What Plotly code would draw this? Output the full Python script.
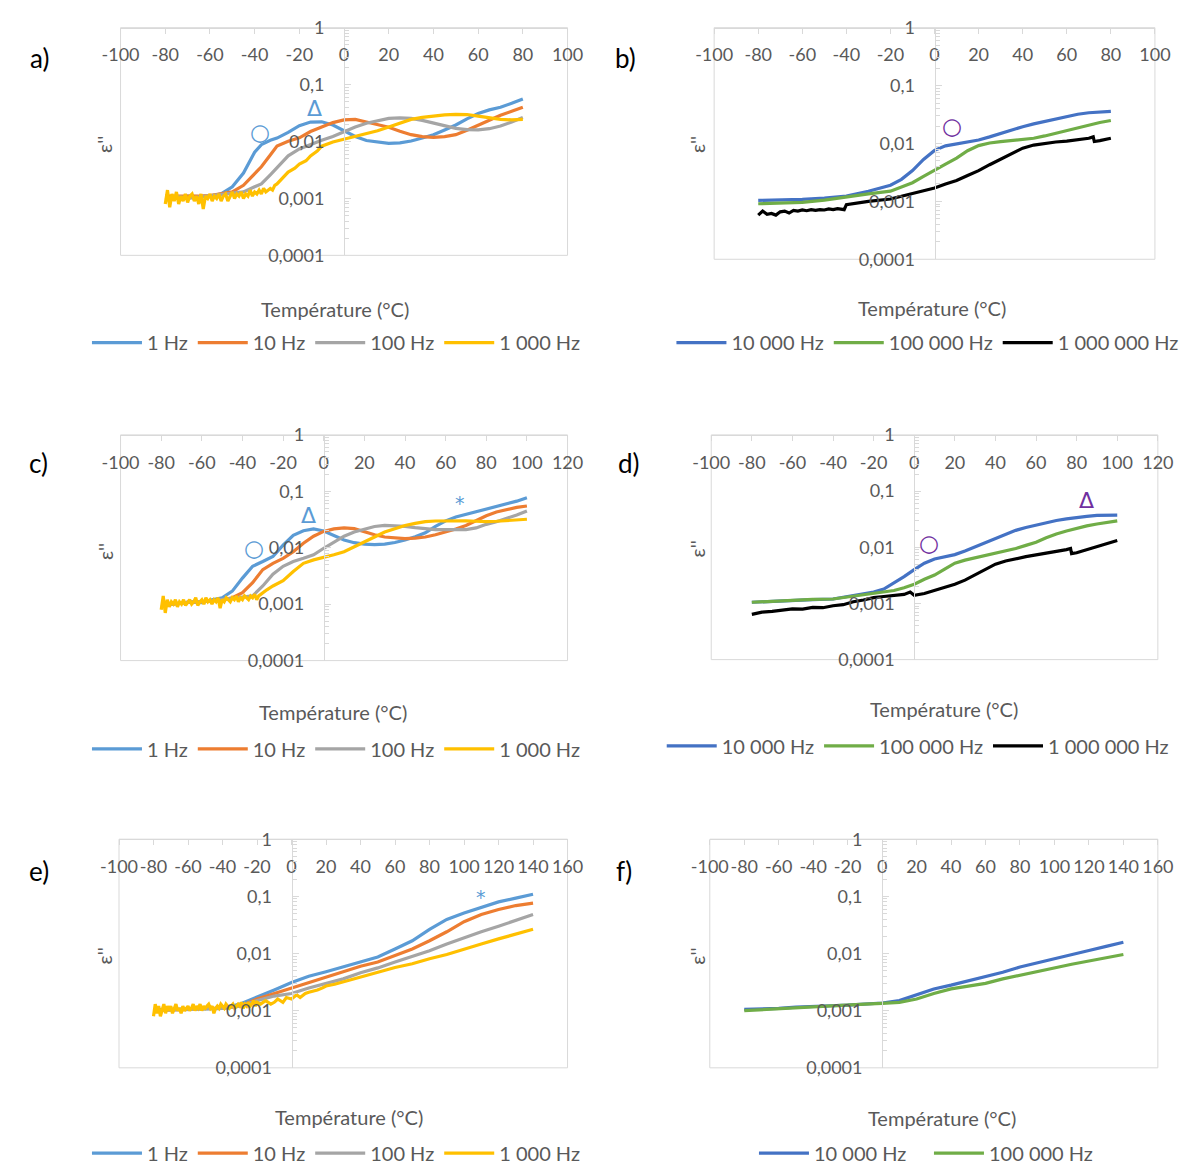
import math
import plotly.graph_objects as go

# ------------------------------------------------------------------ data
X_TICKS_AB = [-100, -80, -60, -40, -20, 0, 20, 40, 60, 80, 100]
X_TICKS_CD = [-100, -80, -60, -40, -20, 0, 20, 40, 60, 80, 100, 120]
X_TICKS_EF = [-100, -80, -60, -40, -20, 0, 20, 40, 60, 80, 100, 120, 140, 160]

# panel a
A_T = [-80, -75, -70, -65, -60, -55, -50, -45, -40, -37, -33, -30, -25, -20, -15, -10, -5, 0,
       5, 10, 15, 20, 25, 30, 35, 40, 45, 50, 55, 60, 65, 70, 75, 80]
A_1HZ = [0.0011, 0.00105, 0.0011, 0.00108, 0.0011, 0.0012, 0.0016, 0.0028, 0.0065, 0.0088,
         0.0105, 0.0115, 0.0145, 0.019, 0.022, 0.0222, 0.0195, 0.0157, 0.0123, 0.0104,
         0.0097, 0.0093, 0.0095, 0.0102, 0.0115, 0.0132, 0.016, 0.0195, 0.025, 0.031,
         0.036, 0.040, 0.047, 0.056]
A_10HZ = [0.0011, 0.0011, 0.00108, 0.0011, 0.00112, 0.0012, 0.0013, 0.0017, 0.0027, 0.0036,
          0.0058, 0.0083, 0.0101, 0.0116, 0.015, 0.018, 0.0215, 0.024, 0.0245, 0.022,
          0.020, 0.0178, 0.0152, 0.0132, 0.0122, 0.0118, 0.0122, 0.0132, 0.0158, 0.0195,
          0.024, 0.029, 0.034, 0.040]
A_100HZ = [0.00095, 0.0011, 0.001, 0.00105, 0.0011, 0.00115, 0.0012, 0.0013, 0.0016, 0.0018,
           0.0026, 0.0035, 0.0056, 0.0074, 0.0089, 0.0105, 0.0123, 0.015, 0.018, 0.021,
           0.0235, 0.0255, 0.026, 0.0255, 0.0235, 0.021, 0.019, 0.017, 0.0162, 0.016,
           0.0168, 0.0187, 0.022, 0.0264]
A_T_1000_NOISY = list(range(-80, -29))
A_1000HZ_NOISY = [0.0008, 0.0014, 0.0007, 0.0012, 0.0009, 0.0013, 0.0008, 0.0011, 0.0009, 0.0012,
                  0.00085, 0.0011, 0.0012, 0.0009, 0.0011, 0.0008, 0.0012, 0.00065, 0.0011, 0.001,
                  0.0012, 0.0009, 0.0011, 0.001, 0.0012, 0.0009, 0.0011, 0.0012, 0.0009, 0.0011,
                  0.0013, 0.001, 0.0012, 0.0011, 0.0013, 0.001, 0.0012, 0.0011, 0.0014, 0.0011,
                  0.0013, 0.0012, 0.0014, 0.0012, 0.0015, 0.0013, 0.0014, 0.0015, 0.0014, 0.0017,
                  0.0018]
A_T_1000 = [-28, -25, -22, -20, -17, -15, -12, -10, -5, 0, 5, 10, 15, 20, 25, 30, 35, 40, 45,
            50, 55, 60, 65, 70, 75, 80]
A_1000HZ = [0.0022, 0.0029, 0.0034, 0.004, 0.0046, 0.0056, 0.0068, 0.0083, 0.0098, 0.011,
            0.012, 0.0137, 0.0155, 0.018, 0.021, 0.0245, 0.0265, 0.028, 0.0295, 0.030,
            0.0298, 0.028, 0.026, 0.0245, 0.024, 0.0245]

# panel b
B_T = [-80, -70, -60, -50, -40, -30, -20, -15, -10, -5, 0, 5, 10, 15, 20, 25, 30, 35, 40, 45,
       50, 55, 60, 65, 70, 75, 80]
B_10KHZ = [0.00104, 0.00105, 0.00108, 0.00114, 0.00123, 0.0015, 0.0019, 0.0024, 0.0034, 0.0053,
           0.0076, 0.0091, 0.0098, 0.0105, 0.0115, 0.013, 0.015, 0.017, 0.0195, 0.0218,
           0.024, 0.027, 0.0296, 0.032, 0.034, 0.0355, 0.036]
B_100KHZ = [0.00091, 0.00093, 0.00096, 0.00105, 0.0012, 0.00135, 0.0015, 0.0018, 0.0021, 0.0027,
            0.0034, 0.0044, 0.0056, 0.0075, 0.0092, 0.0102, 0.0108, 0.0112, 0.0115, 0.0123,
            0.0135, 0.015, 0.017, 0.019, 0.021, 0.023, 0.025]
B_T_1MHZ = [-80, -78, -76, -74, -72, -70, -68, -66, -64, -62, -60, -58, -56, -54, -52, -50, -48,
            -46, -44, -42, -41, -40, -35, -30, -20, -10, 0, 5, 10, 15, 20, 25, 30, 35, 40, 45,
            50, 55, 60, 65, 70, 72, 72.5, 75, 80]
B_1MHZ = [0.00058, 0.00068, 0.0006, 0.00062, 0.00058, 0.00066, 0.00068, 0.00063, 0.0007, 0.00068,
          0.00071, 0.00069, 0.00072, 0.0007, 0.00072, 0.00071, 0.00074, 0.00072, 0.00075, 0.00073,
          0.00072, 0.00088, 0.00095, 0.001, 0.0011, 0.00135, 0.0017,
          0.002, 0.0023, 0.0028, 0.0034, 0.0043, 0.0054, 0.0068, 0.0083, 0.0094, 0.0101,
          0.0106, 0.011, 0.0116, 0.0123,
          0.013, 0.0108, 0.0112, 0.0123]

# panel c
C_T = [-80, -75, -70, -65, -60, -55, -50, -45, -40, -35, -30, -25, -20, -15, -10, -5, 0, 5, 10,
       15, 20, 25, 30, 35, 40, 45, 50, 55, 60, 65, 70, 75, 80, 85, 90, 95, 100]
C_1HZ = [0.0009, 0.001, 0.00105, 0.0011, 0.00107, 0.0012, 0.0013, 0.0017, 0.0029, 0.0047,
         0.0057, 0.007, 0.0111, 0.0166, 0.020, 0.0216, 0.0198, 0.0166, 0.0137, 0.0123,
         0.0116, 0.0114, 0.0116, 0.0124, 0.0137, 0.0157, 0.0184, 0.024, 0.030, 0.035,
         0.039, 0.044, 0.048, 0.053, 0.059, 0.067, 0.077]
C_10HZ = [0.00095, 0.001, 0.00105, 0.0011, 0.0011, 0.00115, 0.0012, 0.0013, 0.0016, 0.0024,
          0.0041, 0.0053, 0.0065, 0.0085, 0.012, 0.016, 0.0195, 0.0216, 0.0225, 0.0218,
          0.019, 0.017, 0.0155, 0.0148, 0.0145, 0.0148, 0.0155, 0.017, 0.019, 0.0215,
          0.0248, 0.030, 0.037, 0.043, 0.048, 0.052, 0.055]
C_100HZ = [0.0009, 0.001, 0.00105, 0.0011, 0.0011, 0.00115, 0.0012, 0.00125, 0.0013, 0.0014,
           0.0021, 0.0034, 0.0047, 0.0057, 0.0065, 0.0075, 0.0098, 0.0127, 0.016, 0.019,
           0.0216, 0.0238, 0.025, 0.0248, 0.024, 0.0228, 0.0216, 0.021, 0.021, 0.0208,
           0.021, 0.0225, 0.026, 0.029, 0.033, 0.038, 0.045]
C_T_1000_NOISY = list(range(-80, -29))
C_1000HZ_NOISY = [0.0008, 0.0014, 0.0007, 0.0012, 0.0009, 0.0011, 0.001, 0.0012, 0.0009, 0.0011,
                  0.001, 0.0012, 0.00095, 0.0011, 0.0012, 0.001, 0.0011, 0.0013, 0.00095, 0.0011,
                  0.0012, 0.001, 0.0013, 0.0011, 0.0012, 0.001, 0.0012, 0.0011, 0.0013, 0.00085,
                  0.0012, 0.0011, 0.0013, 0.0012, 0.0011, 0.0013, 0.0012, 0.0014, 0.0011, 0.0013,
                  0.0012, 0.0014, 0.0013, 0.0012, 0.0014, 0.0013, 0.0015, 0.0012, 0.0014, 0.0015,
                  0.0016]
C_T_1000 = [-28, -25, -20, -15, -10, -5, 0, 5, 10, 15, 20, 25, 30, 35, 40, 45, 50, 55, 60, 65,
            70, 75, 80, 85, 90, 95, 100]
C_1000HZ = [0.0018, 0.0021, 0.0026, 0.0038, 0.0053, 0.0061, 0.0067, 0.0075, 0.0085, 0.0105,
            0.0127, 0.0155, 0.019, 0.022, 0.0248, 0.027, 0.029, 0.0298, 0.030, 0.030,
            0.030, 0.0295, 0.029, 0.0295, 0.030, 0.031, 0.032]

# panel d
D_T = [-80, -70, -60, -50, -40, -30, -20, -15, -10, -5, 0, 5, 10, 15, 20, 25, 30, 35, 40, 45,
       50, 55, 60, 65, 70, 75, 80, 85, 90, 95, 100]
D_10KHZ = [0.00105, 0.0011, 0.00114, 0.00117, 0.0012, 0.0014, 0.0016, 0.0018, 0.0023, 0.003,
           0.004, 0.0052, 0.0062, 0.0068, 0.0074, 0.0086, 0.0102, 0.0122, 0.0145, 0.017,
           0.020, 0.0225, 0.025, 0.0275, 0.030, 0.032, 0.034, 0.0355, 0.037, 0.0375, 0.0375]
D_100KHZ = [0.00105, 0.0011, 0.00115, 0.00118, 0.0012, 0.00135, 0.0015, 0.0016, 0.0017, 0.0019,
            0.0022, 0.0027, 0.0032, 0.0041, 0.0052, 0.0059, 0.0065, 0.0071, 0.0078, 0.0086,
            0.0095, 0.0108, 0.0123, 0.0148, 0.0173, 0.0195, 0.022, 0.024, 0.026, 0.028, 0.0296]
D_T_1MHZ = [-80, -75, -70, -65, -60, -55, -50, -45, -40, -35, -30, -25, -20, -15, -10, -5, -2, 0,
            5, 10, 15, 20, 25, 30, 35, 40, 45, 50, 55, 60, 65, 70, 75, 77, 77.5, 80, 85, 90, 95,
            100]
D_1MHZ = [0.00064, 0.0007, 0.00072, 0.00076, 0.0008, 0.00079, 0.00085, 0.00084, 0.00091, 0.00095,
          0.00107, 0.00115, 0.00127, 0.00133, 0.0014, 0.00145, 0.0016, 0.0014, 0.0015, 0.0017,
          0.0019, 0.0022, 0.0026, 0.0032, 0.004, 0.005, 0.0057, 0.0063, 0.0068, 0.0073,
          0.0078, 0.0083, 0.0091, 0.0095, 0.0077, 0.008, 0.009, 0.0101, 0.0115, 0.0132]

# panel e
E_T = [-80, -70, -60, -50, -40, -30, -20, -10, 0, 10, 20, 30, 40, 50, 60, 70, 80, 90, 100, 110,
       120, 130, 140]
E_1HZ = [0.00104, 0.00105, 0.00107, 0.0011, 0.0011, 0.0013, 0.0017, 0.0023, 0.0031, 0.004,
         0.0048, 0.0058, 0.0071, 0.0087, 0.012, 0.0167, 0.0265, 0.0395, 0.051, 0.064,
         0.080, 0.093, 0.109]
E_10HZ = [0.001, 0.00104, 0.00106, 0.0011, 0.0011, 0.0012, 0.0016, 0.002, 0.0025, 0.0031,
          0.0039, 0.0048, 0.006, 0.0071, 0.0093, 0.012, 0.0167, 0.024, 0.036, 0.048,
          0.059, 0.069, 0.076]
E_100HZ = [0.001, 0.00103, 0.00105, 0.00108, 0.0011, 0.0012, 0.0015, 0.0018, 0.002, 0.0025,
           0.003, 0.0036, 0.0046, 0.0056, 0.0071, 0.0089, 0.0112, 0.0147, 0.019, 0.024,
           0.030, 0.038, 0.048]
E_T_1000_NOISY = list(range(-80, -19))
E_1000HZ_NOISY = [0.0008, 0.0013, 0.0009, 0.0012, 0.0008, 0.0011, 0.0013, 0.0009, 0.0012, 0.001,
                  0.0012, 0.0009, 0.0011, 0.0013, 0.001, 0.0011, 0.0009, 0.0012, 0.001, 0.0011,
                  0.0012, 0.001, 0.0011, 0.0013, 0.001, 0.0012, 0.0011, 0.0013, 0.001, 0.0012,
                  0.0011, 0.0012, 0.0013, 0.0011, 0.0012, 0.0009, 0.0011, 0.0012, 0.0011, 0.0013,
                  0.0012, 0.0011, 0.0013, 0.0012, 0.0011, 0.0012, 0.0013, 0.0011, 0.0012, 0.0013,
                  0.0012, 0.0014, 0.0011, 0.0013, 0.0012, 0.0014, 0.0012, 0.0013, 0.0015, 0.0012,
                  0.0014]
E_T_1000 = [-18, -15, -12, -10, -8, -5, -3, 0, 3, 5, 8, 10, 13, 15, 18, 20, 25, 30, 35, 40, 50,
            60, 70, 80, 90, 100, 110, 120, 130, 140]
E_1000HZ = [0.0013, 0.0015, 0.0013, 0.0014, 0.0016, 0.0014, 0.0017, 0.0016, 0.0019, 0.0017,
            0.002, 0.0021, 0.0022, 0.0023, 0.0025, 0.0027, 0.0029, 0.0032, 0.0036, 0.0039,
            0.0048, 0.0057, 0.0066, 0.0081, 0.0096, 0.012, 0.0147, 0.018, 0.0217, 0.0265]

# panel f
F_T = [-80, -70, -60, -50, -40, -30, -20, -10, 0, 10, 20, 30, 40, 50, 60, 70, 80, 90, 100, 110,
       120, 130, 140]
F_10KHZ = [0.00105, 0.00107, 0.0011, 0.00115, 0.0012, 0.00122, 0.00125, 0.0013, 0.00136, 0.0015,
           0.0019, 0.0024, 0.0028, 0.0033, 0.0039, 0.0047, 0.0058, 0.0068, 0.0081, 0.0095,
           0.0113, 0.0133, 0.0157]
F_100KHZ = [0.001, 0.00104, 0.00107, 0.00111, 0.00116, 0.0012, 0.00128, 0.0013, 0.00134, 0.0014,
            0.0016, 0.002, 0.0024, 0.0027, 0.003, 0.0036, 0.0042, 0.0049, 0.0057, 0.0065,
            0.0074, 0.0085, 0.0096]

# annotation markers: (panel, symbol, T, eps'', colour-key)
MARKERS = [
    (1, "○", -37.4, 0.0148, "blue"), (1, "Δ", -13.2, 0.038, "blue"),
    (2, "○", 7.8, 0.020, "purple"),
    (3, "○", -34.2, 0.0098, "blue"), (3, "Δ", -7.3, 0.037, "blue"), (3, "*", 66.9, 0.061, "blue"),
    (4, "○", 7.2, 0.012, "purple"), (4, "Δ", 84.9, 0.069, "purple"),
    (5, "*", 110, 0.098, "blue"),
]

# ------------------------------------------------------------------ style
W, H = 1202, 1173
FONT = "Lato"
TXT = "#595959"
AXC = "#d9d9d9"
C1, C10, C100, C1000 = "#5B9BD5", "#ED7D31", "#A5A5A5", "#FFC000"
C10K, C100K, C1M = "#4472C4", "#70AD47", "#000000"
MARK_COL = {"blue": "#5B9BD5", "purple": "#7030A0"}
MARK_SIZE = {"○": 23, "Δ": 22, "*": 19}

LOW = [("1 Hz", C1), ("10 Hz", C10), ("100 Hz", C100), ("1 000 Hz", C1000)]
HIGH = [("10 000 Hz", C10K), ("100 000 Hz", C100K), ("1 000 000 Hz", C1M)]

SERIES = {
    1: [(A_T, A_1HZ), (A_T, A_10HZ), (A_T, A_100HZ),
        (A_T_1000_NOISY + A_T_1000, A_1000HZ_NOISY + A_1000HZ)],
    2: [(B_T, B_10KHZ), (B_T, B_100KHZ), (B_T_1MHZ, B_1MHZ)],
    3: [(C_T, C_1HZ), (C_T, C_10HZ), (C_T, C_100HZ),
        (C_T_1000_NOISY + C_T_1000, C_1000HZ_NOISY + C_1000HZ)],
    4: [(D_T, D_10KHZ), (D_T, D_100KHZ), (D_T_1MHZ, D_1MHZ)],
    5: [(E_T, E_1HZ), (E_T, E_10HZ), (E_T, E_100HZ),
        (E_T_1000_NOISY + E_T_1000, E_1000HZ_NOISY + E_1000HZ)],
    6: [(F_T, F_10KHZ), (F_T, F_100KHZ)],
}

PANELS = {
    1: ("a)", (104.6, 16, 565, 248), X_TICKS_AB, (21, 47), (325, 303), (88, 135), (70, 337), LOW),
    2: ("b)", (716, 16, 1170, 252), X_TICKS_AB, (625, 47), (940, 302), (699, 135), (672, 337), HIGH),
    3: ("c)", (104.6, 431, 565, 661), X_TICKS_CD, (20, 460), (323, 713), (88, 550), (70, 751), LOW),
    4: ("d)", (713, 431, 1173, 660), X_TICKS_CD, (628, 460), (953, 710), (698, 547), (662, 748), HIGH),
    5: ("e)", (103, 843, 565, 1076), X_TICKS_EF, (21, 875), (340, 1126), (88, 962), (70, 1163), LOW),
    6: ("f)", (711.5, 843, 1173, 1076), X_TICKS_EF, (623, 875), (951, 1127), (698, 962), (757, 1163), HIGH[:2]),
}
# extra legend entry width (px) for the wider-spaced legend of panel f
LEGEND_ENTRY_WIDTH = {6: [110, 0]}

fig = go.Figure()
annotations = []
shapes = []

for i, (letter, box, xt, lpos, tpos, epos, legpos, names) in PANELS.items():
    sx = "" if i == 1 else str(i)
    x0, y0, x1, y1 = box
    xr = (xt[0], xt[-1])
    leg = "legend" if i == 1 else f"legend{i}"
    widths = LEGEND_ENTRY_WIDTH.get(i, [0] * len(names))
    for (tx, ty), (nm, col), lw in zip(SERIES[i], names, widths):
        kw = dict(legendwidth=lw) if lw else {}
        fig.add_trace(go.Scatter(x=tx, y=ty, mode="lines", name=nm,
                                 line=dict(color=col, width=3.2),
                                 xaxis="x" + sx, yaxis="y" + sx, legend=leg,
                                 showlegend=True, hoverinfo="skip", **kw))
    zero_px = x0 + (0 - xr[0]) / (xr[1] - xr[0]) * (x1 - x0)
    fig.layout["xaxis" + sx] = dict(
        domain=[x0 / W, x1 / W], range=list(xr), anchor="free", position=1 - y0 / H,
        side="bottom", tickmode="array", tickvals=xt, ticktext=[str(v) for v in xt],
        ticks="outside", ticklen=5, tickcolor=AXC, showline=True, linecolor=AXC, linewidth=1,
        showgrid=False, zeroline=False, ticklabelstandoff=6, tickangle=0,
        tickfont=dict(family=FONT, size=18, color=TXT))
    fig.layout["yaxis" + sx] = dict(
        type="log", domain=[1 - y1 / H, 1 - y0 / H], range=[-4, 0], anchor="free",
        position=zero_px / W, side="left", tickmode="linear", tick0=0, dtick=1,
        exponentformat="none", ticks="inside", ticklen=6, tickcolor=AXC,
        minor=dict(dtick="D1", ticks="inside", ticklen=4, tickcolor=AXC, showgrid=False),
        showline=True, linecolor=AXC, linewidth=1, showgrid=False, zeroline=False,
        ticklabelstandoff=16, tickfont=dict(family=FONT, size=18, color=TXT))
    shapes.append(dict(type="rect", xref=f"x{sx} domain", yref=f"y{sx} domain",
                       x0=0, x1=1, y0=0, y1=1, line=dict(color=AXC, width=1), layer="below"))
    annotations.append(dict(text=letter, x=lpos[0] / W, y=1 - lpos[1] / H, xref="paper",
                            yref="paper", showarrow=False, xanchor="center", yanchor="middle",
                            font=dict(family=FONT, size=26, color="#000000")))
    annotations.append(dict(text="Température (°C)", x=tpos[0] / W, y=1 - tpos[1] / H,
                            xref="paper", yref="paper", showarrow=False, xanchor="center",
                            yanchor="middle", font=dict(family=FONT, size=20, color=TXT)))
    annotations.append(dict(text="ε''", x=epos[0] / W, y=1 - epos[1] / H, xref="paper",
                            yref="paper", showarrow=False, textangle=-90, xanchor="center",
                            yanchor="middle", font=dict(family=FONT, size=20, color=TXT)))
    fig.layout[leg] = dict(orientation="h", x=legpos[0] / W, y=1 - legpos[1] / H,
                           xanchor="left", yanchor="middle", bgcolor="rgba(0,0,0,0)",
                           font=dict(family=FONT, size=20, color=TXT), itemwidth=50,
                           tracegroupgap=0)

for p, sym, t, v, ck in MARKERS:
    sx = "" if p == 1 else str(p)
    annotations.append(dict(text=sym, x=t, y=math.log10(v), xref="x" + sx, yref="y" + sx,
                            showarrow=False, xanchor="center", yanchor="middle",
                            font=dict(family="DejaVu Sans", size=MARK_SIZE[sym],
                                      color=MARK_COL[ck])))

fig.update_layout(width=W, height=H, autosize=False, margin=dict(l=0, r=0, t=0, b=0),
                  paper_bgcolor="white", plot_bgcolor="white", separators=", ",
                  annotations=annotations, shapes=shapes, font=dict(family=FONT, color=TXT))
fig.write_html("out.html", config={"displayModeBar": False},
               post_script="document.body.style.margin='0';document.body.style.overflow='hidden';")
